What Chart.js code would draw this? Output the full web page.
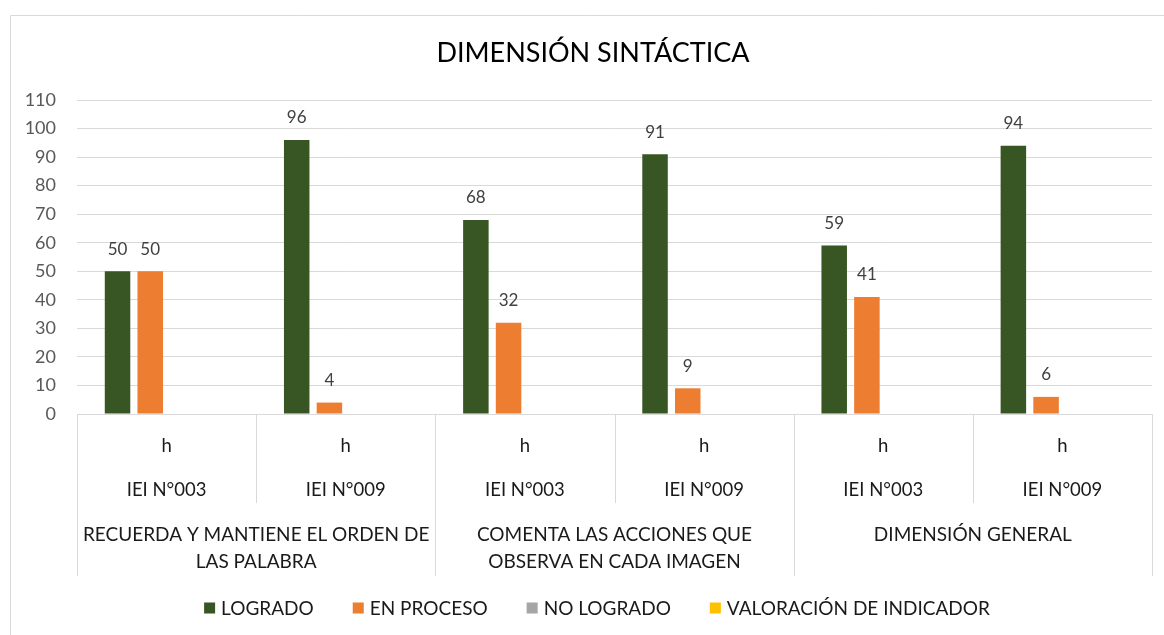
<!DOCTYPE html>
<html>
<head>
<meta charset="utf-8">
<script src="https://cdn.jsdelivr.net/npm/chart.js@4.4.1/dist/chart.umd.min.js"></script>
<style>
  html, body { margin: 0; padding: 0; background: #ffffff; }
  .chart-container { position: relative; width: 1164px; height: 635px; }
</style>
</head>
<body>
<div class="chart-container">
  <canvas id="chart"></canvas>
</div>
<script>
// Category levels (innermost first)
const subLabels = ['h', 'h', 'h', 'h', 'h', 'h'];
const schoolLabels = ['IEI N°003', 'IEI N°009', 'IEI N°003', 'IEI N°009', 'IEI N°003', 'IEI N°009'];
const groupLabels = [
  ['RECUERDA Y MANTIENE EL ORDEN DE', 'LAS PALABRA'],
  ['COMENTA LAS ACCIONES QUE', 'OBSERVA EN CADA IMAGEN'],
  ['DIMENSIÓN GENERAL']
];
const groupSizes = [2, 2, 2];

// Series
const seriesNames = ['LOGRADO', 'EN PROCESO', 'NO LOGRADO', 'VALORACIÓN DE INDICADOR'];
const logrado = [50, 96, 68, 91, 59, 94];
const enProceso = [50, 4, 32, 9, 41, 6];
const noLogrado = [null, null, null, null, null, null];
const valoracion = [null, null, null, null, null, null];
const seriesColors = ['#375623', '#ed7d31', '#a5a5a5', '#ffc000'];

// Value axis ticks
const yMin = 0;
const yMax = 110;
const yStep = 10;

const chartTitle = 'DIMENSIÓN SINTÁCTICA';

const FONT = 'Lato, "Open Sans", sans-serif';
const LINE = '#d9d9d9';

// Outer chart border (only left and top edges fall inside the picture) + title
const frame = {
  id: 'frame',
  beforeDraw(chart) {
    const ctx = chart.ctx;
    ctx.save();
    ctx.fillStyle = '#ffffff';
    ctx.fillRect(0, 0, chart.width, chart.height);
    ctx.strokeStyle = LINE;
    ctx.lineWidth = 1;
    ctx.beginPath();
    ctx.moveTo(10.5, chart.height);
    ctx.lineTo(10.5, 15.5);
    ctx.lineTo(chart.width, 15.5);
    ctx.stroke();

    // title is centred on the outer frame, not on the plot
    ctx.fillStyle = '#000000';
    ctx.font = '27px ' + FONT;
    ctx.textAlign = 'center';
    ctx.textBaseline = 'middle';
    ctx.fillText(chartTitle, 593, 53);
    ctx.restore();
  }
};

// Value labels above bars
const barValues = {
  id: 'barValues',
  afterDatasetsDraw(chart) {
    const ctx = chart.ctx;
    ctx.save();
    ctx.font = '17px ' + FONT;
    ctx.fillStyle = '#404040';
    ctx.textAlign = 'center';
    ctx.textBaseline = 'middle';
    chart.data.datasets.forEach((ds, di) => {
      const meta = chart.getDatasetMeta(di);
      meta.data.forEach((bar, i) => {
        const v = ds.data[i];
        if (v === null || v === undefined) return;
        ctx.fillText(String(v), bar.x, bar.y - 22);
      });
    });
    ctx.restore();
  }
};

// Multi-level category axis
const multiAxis = {
  id: 'multiAxis',
  afterDraw(chart) {
    const ctx = chart.ctx;
    const x = chart.scales.x;
    const top = chart.chartArea.bottom;
    const n = schoolLabels.length;
    const half = (x.getPixelForValue(1) - x.getPixelForValue(0)) / 2;
    ctx.save();
    ctx.strokeStyle = LINE;
    ctx.lineWidth = 1;

    // boundaries
    const groupEnds = [];
    let acc = 0;
    groupSizes.forEach(s => { acc += s; groupEnds.push(acc); });
    for (let b = 0; b <= n; b++) {
      const px = Math.round(x.getPixelForValue(b) - half) + 0.5;
      const isGroup = b === 0 || groupEnds.includes(b);
      ctx.beginPath();
      ctx.moveTo(px, top);
      ctx.lineTo(px, isGroup ? 576 : 503);
      ctx.stroke();
    }

    ctx.fillStyle = '#1a1a1a';
    ctx.font = '18.5px ' + FONT;
    ctx.textAlign = 'center';
    ctx.textBaseline = 'middle';
    for (let i = 0; i < n; i++) {
      const cx = x.getPixelForValue(i);
      ctx.fillText(subLabels[i], cx, 446);
      ctx.fillText(schoolLabels[i], cx, 490);
    }
    ctx.font = '19px ' + FONT;
    let start = 0;
    groupLabels.forEach((lines, g) => {
      const end = start + groupSizes[g] - 1;
      const cx = (x.getPixelForValue(start) + x.getPixelForValue(end)) / 2;
      lines.forEach((line, k) => ctx.fillText(line, cx, 535 + k * 27));
      start += groupSizes[g];
    });
    ctx.restore();
  }
};

// Legend drawn in Excel style: small squares, wide gaps
const legendRow = {
  id: 'legendRow',
  afterDraw(chart) {
    const ctx = chart.ctx;
    ctx.save();
    ctx.font = '19px ' + FONT;
    ctx.textBaseline = 'middle';
    ctx.textAlign = 'left';
    const box = 11, gapText = 6, gapItem = 39, y = 608;
    const widths = chart.data.datasets.map(ds => box + gapText + ctx.measureText(ds.label).width);
    const total = widths.reduce((a, b) => a + b, 0) + gapItem * (widths.length - 1);
    let px = (chart.width - total) / 2 + 15;
    chart.data.datasets.forEach((ds, i) => {
      ctx.fillStyle = ds.backgroundColor;
      ctx.fillRect(px, y - box / 2, box, box);
      ctx.fillStyle = '#1a1a1a';
      ctx.fillText(ds.label, px + box + gapText, y + 1);
      px += widths[i] + gapItem;
    });
    ctx.restore();
  }
};

const seriesData = [logrado, enProceso, noLogrado, valoracion];

new Chart(document.getElementById('chart'), {
  type: 'bar',
  data: {
    labels: schoolLabels,
    datasets: seriesNames.map((name, i) => ({
      label: name,
      data: seriesData[i],
      backgroundColor: seriesColors[i],
      borderWidth: 0,
      categoryPercentage: 0.73,
      barPercentage: 0.78
    }))
  },
  options: {
    responsive: true,
    maintainAspectRatio: false,
    animation: false,
    layout: { padding: { left: 0, right: 12, top: 100, bottom: 0 } },
    plugins: {
      legend: { display: false },
      tooltip: { enabled: false },
      title: { display: false }
    },
    scales: {
      x: {
        grid: { display: false },
        border: { display: true, color: LINE, width: 1 },
        ticks: { display: false },
        afterFit(scale) { scale.height = 221; }
      },
      y: {
        min: yMin,
        max: yMax,
        grid: { color: LINE, drawTicks: false },
        border: { display: false },
        ticks: {
          stepSize: yStep,
          padding: 21,
          color: '#595959',
          font: { family: FONT, size: 18 }
        },
        afterFit(scale) { scale.width = 77; }
      }
    }
  },
  plugins: [frame, barValues, multiAxis, legendRow]
});
</script>
</body>
</html>
